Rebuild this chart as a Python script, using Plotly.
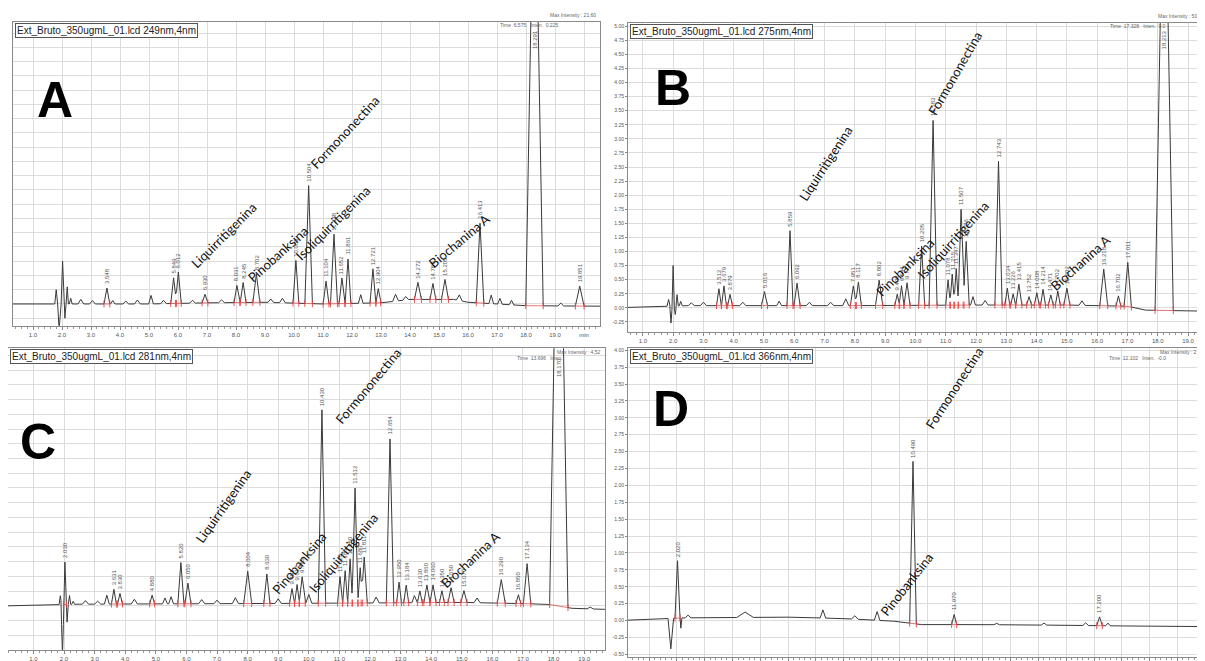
import numpy as np
import plotly.graph_objects as go

W, H = 1205, 661

# ---------------- data ----------------
# Each panel: peak retention time (min), peak height (mAU above baseline),
# half base width (min), 1 = peak carries a retention-time label.
A_rt = [1.80, 1.90, 2.02, 2.10, 2.18, 2.30, 2.65, 3.05, 3.548, 3.75, 4.20, 4.60, 5.07, 5.50,
        5.849, 6.012, 6.50, 6.930, 7.50, 8.031, 8.245, 8.702, 9.20, 9.60, 10.065, 10.504,
        11.104, 11.378, 11.652, 11.861, 12.30, 12.721, 12.904, 13.50, 13.85, 14.272, 14.789,
        15.205, 15.70, 16.413, 16.80, 17.10, 17.50, 18.291, 19.20, 19.851]
A_h = [0.25, -0.45, 0.75, -0.25, 0.30, 0.10, 0.08, 0.06, 0.28, 0.06, 0.05, 0.07, 0.15, 0.06,
       0.45, 0.55, 0.05, 0.15, 0.05, 0.30, 0.35, 0.50, 0.06, 0.08, 0.75, 2.07,
       0.40, 1.22, 0.45, 0.78, 0.15, 0.60, 0.25, 0.12, 0.06, 0.30, 0.28,
       0.35, 0.10, 1.40, 0.15, 0.10, 0.08, 8.60, 0.05, 0.35]
A_w = [0.05, 0.05, 0.05, 0.04, 0.04, 0.05, 0.10, 0.10, 0.10, 0.08, 0.10, 0.10, 0.08, 0.10,
       0.10, 0.10, 0.10, 0.10, 0.10, 0.10, 0.10, 0.12, 0.10, 0.10, 0.10, 0.13,
       0.10, 0.12, 0.10, 0.10, 0.08, 0.10, 0.08, 0.10, 0.10, 0.12, 0.10,
       0.12, 0.10, 0.13, 0.08, 0.08, 0.08, 0.30, 0.10, 0.15]
A_lab = [0, 0, 0, 0, 0, 0, 0, 0, 1, 0, 0, 0, 0, 0,
         1, 1, 0, 1, 0, 1, 1, 1, 0, 0, 1, 1,
         1, 1, 1, 1, 0, 1, 1, 0, 0, 1, 1,
         1, 0, 1, 0, 0, 0, 1, 0, 1]
A_bt = [0.0, 5.0, 7.0, 9.0, 11.0, 13.0, 14.0, 15.5, 16.0, 18.0, 20.8]
A_by = [0.0, 0.0, 0.02, 0.03, 0.0, 0.02, 0.08, 0.08, 0.03, -0.03, -0.04]

B_rt = [1.85, 1.93, 2.00, 2.07, 2.13, 2.25, 2.60, 3.00, 3.512, 3.679, 3.879, 4.30, 5.016, 5.50,
        5.859, 6.092, 6.50, 7.20, 7.70, 7.951, 8.117, 8.802, 9.400, 9.541, 9.723, 10.205,
        10.583, 11.078, 11.215, 11.347, 11.507, 11.676, 11.90, 12.30, 12.743, 13.034, 13.226,
        13.415, 13.752, 14.008, 14.214, 14.471, 14.702, 15.002, 15.50, 16.218, 16.702, 17.011,
        18.213, 19.45]
B_h = [0.12, -0.30, 0.72, -0.15, 0.20, 0.08, 0.05, 0.06, 0.30, 0.35, 0.20, 0.06, 0.25, 0.08,
       1.33, 0.40, 0.06, 0.06, 0.12, 0.35, 0.42, 0.45, 0.20, 0.35, 0.40, 1.05,
       3.28, 0.45, 0.55, 0.65, 1.70, 1.13, 0.15, 0.08, 2.55, 0.30, 0.20,
       0.37, 0.15, 0.22, 0.28, 0.18, 0.25, 0.30, 0.08, 0.65, 0.18, 0.78,
       9.00, 0.30]
B_w = [0.05, 0.04, 0.04, 0.04, 0.04, 0.05, 0.10, 0.10, 0.08, 0.08, 0.08, 0.10, 0.10, 0.08,
       0.10, 0.10, 0.10, 0.10, 0.10, 0.10, 0.10, 0.12, 0.08, 0.08, 0.10, 0.10,
       0.13, 0.08, 0.08, 0.08, 0.10, 0.10, 0.08, 0.10, 0.12, 0.08, 0.08,
       0.10, 0.08, 0.08, 0.08, 0.08, 0.08, 0.10, 0.10, 0.13, 0.08, 0.12,
       0.30, 0.10]
B_lab = [0, 0, 0, 0, 0, 0, 0, 0, 1, 1, 1, 0, 1, 0,
         1, 1, 0, 0, 0, 1, 1, 1, 1, 1, 1, 1,
         1, 1, 1, 1, 1, 1, 0, 0, 1, 1, 1,
         1, 1, 1, 1, 1, 1, 1, 0, 1, 1, 1,
         1, 0]
B_bt = [0.0, 2.5, 8.0, 12.0, 15.0, 17.0, 17.6, 19.8]
B_by = [0.0, 0.04, 0.04, 0.05, 0.05, 0.03, -0.04, -0.06]

C_rt = [1.88, 1.95, 2.03, 2.10, 2.18, 2.30, 2.70, 3.10, 3.40, 3.631, 3.830, 4.30, 4.880, 5.30,
        5.50, 5.820, 6.050, 6.50, 7.00, 7.60, 8.004, 8.630, 9.00, 9.451, 9.617, 9.783, 10.00,
        10.430, 11.020, 11.188, 11.350, 11.512, 11.680, 11.811, 12.20, 12.654, 12.950, 13.184,
        13.45, 13.630, 13.860, 14.060, 14.350, 14.650, 15.070, 15.50, 16.290, 16.850, 17.134,
        18.170, 19.20]
C_h = [0.15, -0.85, 0.72, -0.30, 0.15, 0.05, 0.06, 0.05, 0.15, 0.25, 0.18, 0.08, 0.15, 0.10,
       0.12, 0.70, 0.35, 0.07, 0.06, 0.10, 0.55, 0.50, 0.08, 0.25, 0.32, 0.45, 0.15,
       3.28, 0.45, 0.55, 0.75, 1.95, 0.60, 0.78, 0.10, 2.78, 0.35, 0.30,
       0.12, 0.20, 0.30, 0.30, 0.20, 0.25, 0.20, 0.08, 0.40, 0.15, 0.68,
       9.00, 0.03]
C_w = [0.04, 0.05, 0.05, 0.04, 0.04, 0.05, 0.10, 0.10, 0.08, 0.08, 0.08, 0.10, 0.08, 0.08,
       0.08, 0.10, 0.10, 0.10, 0.10, 0.10, 0.13, 0.10, 0.10, 0.08, 0.08, 0.10, 0.10,
       0.12, 0.08, 0.08, 0.08, 0.10, 0.08, 0.10, 0.10, 0.12, 0.08, 0.08,
       0.08, 0.08, 0.10, 0.10, 0.08, 0.10, 0.10, 0.10, 0.13, 0.08, 0.12,
       0.30, 0.10]
C_lab = [0, 0, 1, 0, 0, 0, 0, 0, 0, 1, 1, 0, 1, 0,
         0, 1, 1, 0, 0, 0, 1, 1, 0, 1, 1, 1, 0,
         1, 1, 1, 1, 1, 1, 1, 0, 1, 1, 1,
         0, 1, 1, 1, 1, 1, 1, 0, 1, 1, 1,
         1, 0]
C_bt = [0.0, 2.5, 8.0, 12.0, 15.0, 17.8, 18.6, 19.8]
C_by = [0.0, 0.03, 0.04, 0.05, 0.06, 0.03, -0.04, -0.06]

D_rt = [1.78, 2.020, 2.14, 2.40, 4.45, 7.25, 8.40, 9.20, 10.490, 11.970, 13.50, 15.20, 16.70,
        17.200, 17.50]
D_h = [-0.45, 0.85, -0.15, 0.04, 0.08, 0.12, 0.05, 0.13, 2.40, 0.15, 0.02, 0.03, 0.04,
       0.13, 0.04]
D_w = [0.10, 0.09, 0.04, 0.10, 0.30, 0.10, 0.12, 0.10, 0.12, 0.09, 0.10, 0.10, 0.10,
       0.10, 0.08]
D_lab = [0, 1, 0, 0, 0, 0, 0, 0, 1, 1, 0, 0, 0, 1, 0]
D_bt = [-0.1, 2.3, 6.0, 8.0, 9.8, 10.8, 13.0, 16.0, 18.0, 21.2]
D_by = [0.0, 0.04, 0.05, 0.03, -0.01, -0.06, -0.06, -0.07, -0.08, -0.09]

TITLES = ["Ext_Bruto_350ugmL_01.lcd 249nm,4nm", "Ext_Bruto_350ugmL_01.lcd 275nm,4nm",
          "Ext_Bruto_350ugmL_01.lcd 281nm,4nm", "Ext_Bruto_350ugmL_01.lcd 366nm,4nm"]
LETTERS = ["A", "B", "C", "D"]
MAX_INT = ["Max Intensity : 21,60", "Max Intensity : 50,12", "Max Intensity : 4,52", "Max Intensity : 2,36"]
CURSOR = ["Time  6.575   Inten.  0.225", "Time  17.328   Inten.  0.0", "Time  13.696   Inten.", "Time  12.102   Inten.  -0.0"]

panels = [
    dict(rt=A_rt, h=A_h, w=A_w, lab=A_lab, bt=A_bt, by=A_by),
    dict(rt=B_rt, h=B_h, w=B_w, lab=B_lab, bt=B_bt, by=B_by),
    dict(rt=C_rt, h=C_h, w=C_w, lab=C_lab, bt=C_bt, by=C_by),
    dict(rt=D_rt, h=D_h, w=D_w, lab=D_lab, bt=D_bt, by=D_by),
]

# ---------------- geometry (pixels) ----------------
geom = [
    dict(l=5, r=592, t=13, b=322, xr=[0.31, 20.55], yr=[-0.38, 4.95], ylab=False,
         xt=list(range(1, 21)), last_min=True, info_in=False),
    dict(l=620, r=1200, t=14, b=328, xr=[0.51, 19.66], yr=[-0.42, 5.06], ylab=True,
         xt=list(range(1, 20)), last_min=False, info_in=False),
    dict(l=0, r=597, t=345, b=652, xr=[0.17, 19.68], yr=[-0.75, 4.37], ylab=False,
         xt=list(range(1, 20)), last_min=False, info_in=True),
    dict(l=620, r=1200, t=345, b=659, xr=[0.24, 21.1], yr=[-0.54, 4.03], ylab=True,
         xt=list(range(1, 21)), last_min=False, info_in=True),
]

def px(x, y):
    return x / W, 1 - y / H

def build(p):
    rt, h, w = np.array(p["rt"]), np.array(p["h"]), np.array(p["w"])
    xs = np.unique(np.concatenate([p["bt"], rt - w, rt, rt + w]))
    ys = np.interp(xs, p["bt"], p["by"])
    for r, hh, ww in zip(rt, h, w):
        ys = ys + hh * np.clip(1 - np.abs(xs - r) / ww, 0, None)
    return xs, ys

fig = go.Figure()
annotations = []
layout = {}

for i, (p, g) in enumerate(zip(panels, geom)):
    k = "" if i == 0 else str(i + 1)
    xs, ys = build(p)
    fig.add_trace(go.Scatter(x=xs, y=ys, mode="lines", line=dict(color="#3a3a3a", width=1),
                             xaxis="x" + k, yaxis="y" + k, hoverinfo="skip", showlegend=False))
    # integration baselines (red)
    bx, byy = [], []
    for r, hh, ww, lb in zip(p["rt"], p["h"], p["w"], p["lab"]):
        if lb and hh > 0:
            x0, x1 = r - ww, r + ww
            bx += [x0, x1, None]
            byy += [float(np.interp(x0, p["bt"], p["by"])), float(np.interp(x1, p["bt"], p["by"])), None]
    fig.add_trace(go.Scatter(x=bx, y=byy, mode="lines+markers",
                             line=dict(color="rgba(225,70,70,0.75)", width=1),
                             marker=dict(symbol="line-ns-open", size=5, color="rgba(225,70,70,0.9)",
                                         line=dict(width=1, color="rgba(225,70,70,0.9)")),
                             xaxis="x" + k, yaxis="y" + k, hoverinfo="skip", showlegend=False))
    # peak labels
    for r, hh, lb in zip(p["rt"], p["h"], p["lab"]):
        if lb:
            top = float(np.interp(r, p["bt"], p["by"])) + hh
            yv = min(top, g["yr"][1] - 0.55)
            annotations.append(dict(x=r, y=yv, xref="x" + k, yref="y" + k, text=f"{r:.3f}",
                                    showarrow=False, textangle=-90, yanchor="bottom", yshift=2,
                                    font=dict(size=6, color="#555", family="Liberation Sans")))
    ticktext = [f"{v:.1f}" for v in g["xt"]]
    if g["last_min"]:
        ticktext[-1] = "min"
    x0p, y1p = px(g["l"], g["t"])
    x1p, y0p = px(g["r"], g["b"])
    layout["xaxis" + k] = dict(domain=[x0p, x1p], range=g["xr"], anchor="y" + k,
                               tickvals=g["xt"], ticktext=ticktext, ticks="outside", ticklen=3,
                               tickcolor="#888", tickfont=dict(size=6, color="#555", family="Liberation Sans"),
                               minor=dict(dtick=0.2, ticks="outside", ticklen=2, tickcolor="#999", showgrid=False),
                               showgrid=True, gridcolor="#dcdcdc", gridwidth=1,
                               showline=True, linecolor="#8a8a8a", linewidth=1, mirror=True, zeroline=False)
    ytv = [round(-0.5 + 0.25 * j, 2) for j in range(0, 23)]
    layout["yaxis" + k] = dict(domain=[y0p, y1p], range=g["yr"], anchor="x" + k,
                               tickvals=ytv, ticktext=[f"{v:.2f}" for v in ytv],
                               showticklabels=g["ylab"], ticks="outside" if g["ylab"] else "",
                               ticklen=2, tickcolor="#888",
                               tickfont=dict(size=5, color="#555", family="Liberation Sans"),
                               showgrid=True, gridcolor="#dcdcdc", gridwidth=1,
                               showline=True, linecolor="#8a8a8a", linewidth=1, mirror=True, zeroline=False)
    # title box
    tx, ty = px(g["l"] + 2, g["t"] + 1)
    annotations.append(dict(x=tx, y=ty, xref="paper", yref="paper", text=TITLES[i], showarrow=False,
                            xanchor="left", yanchor="top", bordercolor="#555", borderwidth=1, borderpad=1,
                            bgcolor="white", font=dict(size=10, color="#222", family="Liberation Sans")))
    # top-right info
    if g["info_in"]:
        my_px, cy_px = g["t"] + 4, g["t"] + 10
    else:
        my_px, cy_px = g["t"] - 7, g["t"] + 3
    mx, my = px(g["r"] - 2, my_px)
    annotations.append(dict(x=mx, y=my, xref="paper", yref="paper", text=MAX_INT[i], showarrow=False,
                            xanchor="right", yanchor="middle", font=dict(size=5, color="#666", family="Liberation Sans")))
    cx, cy = px(g["r"] - 40, cy_px)
    annotations.append(dict(x=cx, y=cy, xref="paper", yref="paper", text=CURSOR[i], showarrow=False,
                            xanchor="right", yanchor="middle", font=dict(size=5, color="#666", family="Liberation Sans")))

# big panel letters
for letter, (lx, ly) in zip(LETTERS, [(47, 93), (665, 80), (30, 440), (663, 407)]):
    x, y = px(lx, ly)
    annotations.append(dict(x=x, y=y, xref="paper", yref="paper", text=f"<b>{letter}</b>", showarrow=False,
                            xanchor="center", yanchor="middle",
                            font=dict(size=50, color="black", family="Liberation Sans")))

# compound names
compound_marks = [
    ("Liquirritigenina", 216, 230, -45), ("Pinobanksina", 270, 249, -42),
    ("Isoliquirritigenina", 325, 218, -45), ("Formononectina", 337, 125, -47),
    ("Biochanina A", 451, 236, -40),
    ("Liquirritigenina", 818, 157, -57), ("Pinobanksina", 897, 262, -45),
    ("Isoliquirritigenina", 945, 235, -48), ("Formononectina", 947, 65, -60),
    ("Biochanina A", 1072, 258, -42),
    ("Liquirritigenina", 215, 505, -55), ("Pinobanksina", 291, 563, -50),
    ("Isoliquirritigenina", 335, 553, -50), ("Formononectina", 360, 383, -50),
    ("Biochanina A", 462, 560, -43),
    ("Formononectina", 946, 385, -57), ("Pinobanksina", 899, 585, -52),
]
for name, cx_, cy_, ang in compound_marks:
    x, y = px(cx_, cy_)
    annotations.append(dict(x=x, y=y, xref="paper", yref="paper", text=name, showarrow=False,
                            textangle=ang, xanchor="center", yanchor="middle",
                            font=dict(size=13, color="#111", family="Lato")))

fig.update_layout(
    width=W, height=H, margin=dict(l=0, r=0, t=0, b=0),
    paper_bgcolor="white", plot_bgcolor="white",
    annotations=annotations, **layout,
)
fig.write_html("out.html")
